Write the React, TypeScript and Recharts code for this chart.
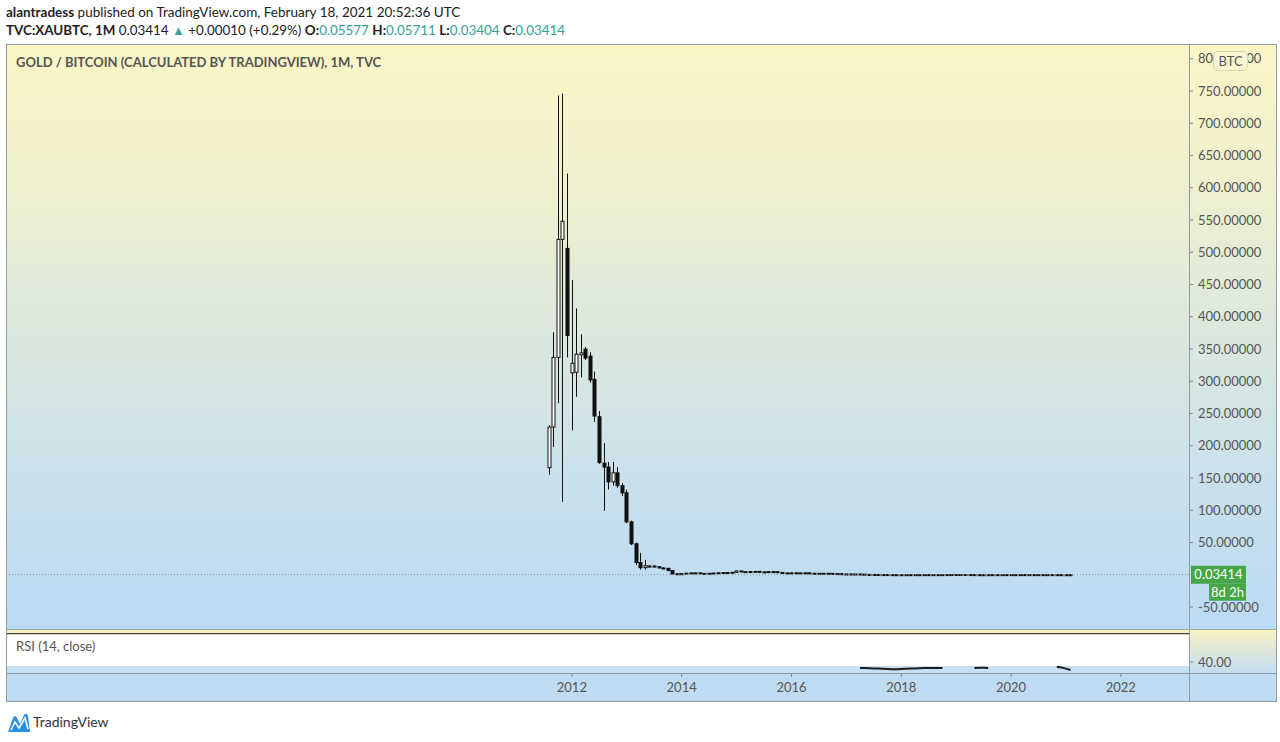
import React from "react";
import {
  ComposedChart,
  Bar,
  Line,
  XAxis,
  YAxis,
  ReferenceLine,
  ReferenceArea,
} from "recharts";

const FONT = "Lato, 'Open Sans', sans-serif";

// first candle is Aug 2011, one candle per month up to Feb 2021
const firstCandle = "2011-08";

const opens = [
  166, 229, 337, 520, 506,
  313, 314, 341, 350, 339, 303, 245, 173, 167, 144, 158, 138,
  127, 82, 48, 19, 11, 13, 13.5, 12.5, 10.5, 10, 6.5, 1.1,
  1.6, 1.55, 2.4, 2.85, 2.9, 2.0, 2.07, 2.2, 2.7, 3.1, 3.5, 3.1,
  3.75, 5.9, 4.8, 4.85, 5.0, 5.2, 4.45, 3.85, 4.9, 4.7, 3.6, 2.8,
  2.47, 3.0, 2.8, 2.97, 2.9, 2.3, 1.96, 2.16, 2.28, 2.16, 1.82, 1.58,
  1.19, 1.25, 1.05, 1.16, 0.94, 0.55, 0.5, 0.44, 0.28, 0.295, 0.197, 0.128,
  0.093, 0.132, 0.128, 0.192, 0.142, 0.173, 0.196, 0.158, 0.171, 0.18, 0.192, 0.304,
  0.343, 0.382, 0.341, 0.315, 0.241, 0.152, 0.13, 0.14, 0.158, 0.178, 0.165, 0.194,
  0.211, 0.17, 0.186, 0.246, 0.195, 0.183, 0.195, 0.174, 0.169, 0.175, 0.136, 0.09,
  0.0655, 0.05577,
];
const highs = [
  232, 376, 743, 746, 622,
  457, 413, 373, 353, 345, 315, 254, 204, 175, 175, 167, 142,
  132, 84, 50, 34, 23, 15, 15, 13, 11.5, 10.5, 7, 2.3,
  2.2, 2.9, 3.2, 3.3, 3.1, 2.3, 2.4, 2.9, 3.5, 4.2, 3.6, 3.9,
  6.5, 6.2, 5.3, 5.4, 5.6, 5.3, 4.6, 5.6, 5.1, 4.8, 3.9, 3.1,
  3.4, 3.3, 3.1, 3.1, 3.0, 2.5, 2.4, 2.5, 2.4, 2.3, 1.9, 1.65,
  1.4, 1.3, 1.25, 1.2, 0.98, 0.62, 0.6, 0.46, 0.4, 0.32, 0.2, 0.15,
  0.2, 0.18, 0.22, 0.2, 0.19, 0.21, 0.2, 0.2, 0.19, 0.2, 0.33, 0.4,
  0.39, 0.39, 0.35, 0.32, 0.25, 0.17, 0.15, 0.16, 0.18, 0.19, 0.2, 0.23,
  0.22, 0.19, 0.32, 0.26, 0.2, 0.2, 0.2, 0.18, 0.18, 0.18, 0.14, 0.1,
  0.068, 0.05711,
];
const lows = [
  155, 198, 266, 113, 337,
  224, 276, 306, 333, 298, 237, 172, 99, 132, 138, 135, 122,
  80, 46, 15, 8, 8, 11, 11.5, 10, 9.5, 6, 0.9, 0.9,
  1.4, 1.5, 2.3, 2.6, 1.9, 1.9, 2.0, 2.1, 2.6, 3.0, 3.0, 3.0,
  3.6, 4.6, 4.5, 4.6, 4.8, 4.3, 3.7, 3.6, 4.5, 3.2, 2.4, 2.3,
  2.4, 2.6, 2.7, 2.8, 2.2, 1.6, 1.9, 2.1, 2.1, 1.75, 1.5, 1.15,
  1.1, 1.0, 0.88, 0.9, 0.5, 0.42, 0.4, 0.26, 0.27, 0.19, 0.12, 0.065,
  0.088, 0.1, 0.12, 0.13, 0.14, 0.16, 0.15, 0.15, 0.17, 0.17, 0.18, 0.29,
  0.33, 0.33, 0.3, 0.23, 0.14, 0.11, 0.12, 0.12, 0.15, 0.14, 0.16, 0.19,
  0.16, 0.16, 0.17, 0.18, 0.17, 0.17, 0.16, 0.14, 0.16, 0.13, 0.08, 0.056,
  0.044, 0.03404,
];
const closes = [
  229, 337, 520, 548, 371,
  328, 342, 344, 336, 302, 246, 174, 167, 144, 158, 138, 127,
  82, 48, 19, 11, 14, 13.5, 12.5, 10.5, 10, 6.5, 1.1, 1.6,
  1.55, 2.4, 2.85, 2.9, 2.0, 2.07, 2.2, 2.7, 3.1, 3.5, 3.1, 3.75,
  5.9, 4.8, 4.85, 5.0, 5.2, 4.45, 3.85, 4.9, 4.7, 3.6, 2.8, 2.47,
  3.0, 2.8, 2.97, 2.9, 2.3, 1.96, 2.16, 2.28, 2.16, 1.82, 1.58, 1.19,
  1.25, 1.05, 1.16, 0.94, 0.55, 0.5, 0.44, 0.28, 0.295, 0.197, 0.128, 0.093,
  0.132, 0.128, 0.192, 0.142, 0.173, 0.196, 0.158, 0.171, 0.18, 0.192, 0.304, 0.343,
  0.382, 0.341, 0.315, 0.241, 0.152, 0.13, 0.14, 0.158, 0.178, 0.165, 0.194, 0.211,
  0.17, 0.186, 0.246, 0.195, 0.183, 0.195, 0.174, 0.169, 0.175, 0.136, 0.09, 0.0655,
  0.0558, 0.03414,
];

const lastPrice = 0.03414;

// RSI pieces that show at the bottom of the pane (months counted from Jan 2012)
const rsiMonths = [
  63, 64, 65, 66, 67, 68, 69, 70, 71, 72, 73, 74, 75, 76, 77, 78, 79, 80, 81, 82,
  88, 89, 90, 91, 92,
  106, 107, 108, 109,
];
const rsiValues = [
  37.0, 37.0, 36.9, 36.8, 36.7, 36.6, 36.5, 36.4, 36.4, 36.5, 36.6, 36.7, 36.8, 36.9, 37.0, 37.0, 37.0, 37.0, 37.0, null,
  37.0, 37.1, 37.1, 37.0, null,
  37.6, 37.3, 36.7, 36.0,
];

const priceTicks = [-50, 50, 100, 150, 200, 250, 300, 350, 400, 450, 500, 550, 600, 650, 700, 750, 800];
const yearTicks = [0, 24, 48, 72, 96, 120];
const xDomain = [-123.7, 134.9];

const monthOffset = (label: string) => {
  const [y, m] = label.split("-").map(Number);
  return (y - 2012) * 12 + (m - 1);
};

const start = monthOffset(firstCandle);
const candles = closes.map((c, i) => ({
  t: start + i,
  open: opens[i],
  high: highs[i],
  low: lows[i],
  close: c,
  range: [lows[i], highs[i]],
}));

const rsiData = rsiMonths.map((t, i) => ({ t, rsi: rsiValues[i] }));

function Candle(props: any) {
  const { x, y, width, height, payload } = props;
  if (!payload || x == null || y == null) return null;
  const { open, close, high, low } = payload;
  const top = Math.min(y, y + height);
  const h = Math.abs(height);
  const k = high > low ? h / (high - low) : 0;
  const py = (v: number) => top + (high - v) * k;
  const cx = Math.floor(x + width / 2) + 0.5;
  const bTop = py(Math.max(open, close));
  const bH = Math.max(py(Math.min(open, close)) - bTop, 1);
  const up = close >= open;
  return (
    <g>
      <line x1={cx} x2={cx} y1={top} y2={top + Math.max(h, 1)} stroke="#111" strokeWidth={1} />
      <rect
        x={cx - 1.5}
        y={bTop}
        width={3}
        height={bH}
        fill={up ? "#ffffff" : "#111"}
        stroke="#111"
        strokeWidth={1}
      />
    </g>
  );
}

function PriceTag(props: any) {
  const vb = props.viewBox || {};
  const right = vb.x + vb.width;
  const yy = vb.y;
  return (
    <g style={{ fontFamily: FONT }}>
      <rect x={right + 2} y={yy - 9} width={55} height={18} fill="#46a748" />
      <text x={right + 29.5} y={yy + 4.5} textAnchor="middle" fill="#fff" fontSize={13}>
        0.03414
      </text>
      <rect x={right + 20} y={yy + 9} width={37} height={17} fill="#46a748" />
      <text x={right + 38.5} y={yy + 22} textAnchor="middle" fill="#fff" fontSize={13}>
        8d 2h
      </text>
    </g>
  );
}

const teal = "#35a295";
const line = "#8f9aa3";

export default function App() {
  const abs = (l: number, t: number, w: number, h: number, extra: any = {}) => ({
    position: "absolute" as const,
    left: l,
    top: t,
    width: w,
    height: h,
    ...extra,
  });
  return (
    <div
      style={{
        position: "fixed",
        left: 0,
        top: 0,
        width: 1280,
        height: 742,
        background: "#fff",
        fontFamily: FONT,
        overflow: "hidden",
      }}
    >
      <div style={{ position: "absolute", left: 6, top: 4, fontSize: 13.5, color: "#222", whiteSpace: "nowrap" }}>
        <b>alantradess</b> published on TradingView.com, February 18, 2021 20:52:36 UTC
      </div>
      <div style={{ position: "absolute", left: 6, top: 22, fontSize: 13.4, color: "#222", whiteSpace: "nowrap" }}>
        <b>TVC:XAUBTC, 1M</b> 0.03414 <span style={{ color: teal, fontSize: 13 }}>▲</span> +0.00010 (+0.29%){" "}
        <b>O:</b>
        <span style={{ color: teal }}>0.05577</span> <b>H:</b>
        <span style={{ color: teal }}>0.05711</span> <b>L:</b>
        <span style={{ color: teal }}>0.03404</span> <b>C:</b>
        <span style={{ color: teal }}>0.03414</span>
      </div>

      {/* backgrounds */}
      <div
        style={abs(6, 44, 1271, 585, {
          background: "linear-gradient(180deg, #fcf6c5 0%, #eef0cf 25%, #dbe8de 50%, #c9e0ec 75%, #bcdbf5 100%)",
        })}
      />
      <div style={abs(6, 629, 1183, 44, { background: "linear-gradient(180deg, #f6efc2 0px, #f6efc2 5px, #c6dff2 5px)" })} />
      <div style={abs(1189, 629, 88, 44, { background: "linear-gradient(180deg, #f9f2c3 0%, #c4ddf2 100%)" })} />
      <div style={abs(6, 673, 1271, 29, { background: "#c0dcf4" })} />

      <div style={abs(6, 44, 1271, 585)}>
        <ComposedChart width={1271} height={585} data={candles} margin={{ top: 0, right: 0, bottom: 0, left: 0 }}>
          <XAxis type="number" dataKey="t" domain={xDomain} allowDataOverflow hide />
          <YAxis
            orientation="right"
            type="number"
            width={88}
            domain={[-84.1, 822.9]}
            allowDataOverflow
            ticks={priceTicks}
            interval={0}
            tickFormatter={(v: number) => v.toFixed(5)}
            tick={{ fill: "#555", fontSize: 13, fontFamily: FONT }}
            tickLine={{ stroke: "#7d8790" }}
            tickSize={4}
            tickMargin={5}
            axisLine={false}
          />
          <ReferenceLine
            y={lastPrice}
            stroke="#8a8f94"
            strokeDasharray="1 2"
            label={(p: any) => <PriceTag viewBox={p.viewBox} />}
          />
          <Bar dataKey="range" barSize={3} isAnimationActive={false} shape={(p: any) => <Candle {...p} />} />
        </ComposedChart>
      </div>

      <div style={abs(6, 633, 1271, 69)}>
        <ComposedChart width={1271} height={69} data={rsiData} margin={{ top: 0, right: 0, bottom: 0, left: 0 }}>
          <XAxis
            type="number"
            dataKey="t"
            domain={xDomain}
            allowDataOverflow
            ticks={yearTicks}
            interval={0}
            tickFormatter={(v: number) => String(2012 + v / 12)}
            height={29}
            tick={{ fill: "#555", fontSize: 13, fontFamily: FONT }}
            tickLine={{ stroke: "#7d8790" }}
            tickSize={4}
            tickMargin={6}
            axisLine={false}
          />
          <YAxis
            orientation="right"
            type="number"
            width={88}
            domain={[34.5, 54.5]}
            allowDataOverflow
            ticks={[40]}
            tickFormatter={(v: number) => v.toFixed(2)}
            tick={{ fill: "#555", fontSize: 13, fontFamily: FONT }}
            tickLine={{ stroke: "#7d8790" }}
            tickSize={4}
            tickMargin={5}
            axisLine={false}
          />
          <ReferenceArea y1={38} y2={54.25} fill="#ffffff" fillOpacity={1} stroke="none" />
          <ReferenceLine y={54.25} stroke="#4a4230" strokeWidth={1.5} />
          <Line
            dataKey="rsi"
            stroke="#1c1c1c"
            strokeWidth={2}
            dot={false}
            connectNulls={false}
            isAnimationActive={false}
          />
        </ComposedChart>
      </div>

      {/* frame lines */}
      <div style={abs(6, 44, 1271, 658, { border: `1px solid ${line}`, boxSizing: "border-box" })} />
      <div style={abs(1189, 44, 1, 658, { background: line })} />
      <div style={abs(6, 629, 1271, 1, { background: "#a3a89c" })} />
      <div style={abs(6, 673, 1271, 1, { background: line })} />

      <div style={{ position: "absolute", left: 16, top: 54, fontSize: 13, fontWeight: 700, color: "#555", whiteSpace: "nowrap" }}>
        GOLD / BITCOIN (CALCULATED BY TRADINGVIEW), 1M, TVC
      </div>
      <div style={{ position: "absolute", left: 16, top: 638, fontSize: 13, color: "#555", whiteSpace: "nowrap" }}>
        RSI (14, close)
      </div>
      <div
        style={abs(1213, 51, 35, 20, {
          border: "1px solid #d8d3b4",
          borderRadius: 5,
          background: "#fbf6d2",
          boxSizing: "border-box",
          fontSize: 13,
          color: "#555",
          textAlign: "center",
          lineHeight: "18px",
        })}
      >
        BTC
      </div>

      <svg style={abs(7, 712, 24, 22)} width={24} height={22}>
        <path d="M1 20 L6 6 Q8 2 10 6 L13 12 L17 3 Q19 0 21 4 L23 20 Z" fill="#2a8fde" />
        <path d="M4 18 L8 10 L12 16 L18 6 L21 17" fill="none" stroke="#fff" strokeWidth={1.6} />
      </svg>
      <div style={{ position: "absolute", left: 33, top: 713, fontSize: 14, color: "#333", whiteSpace: "nowrap" }}>
        TradingView
      </div>
    </div>
  );
}
